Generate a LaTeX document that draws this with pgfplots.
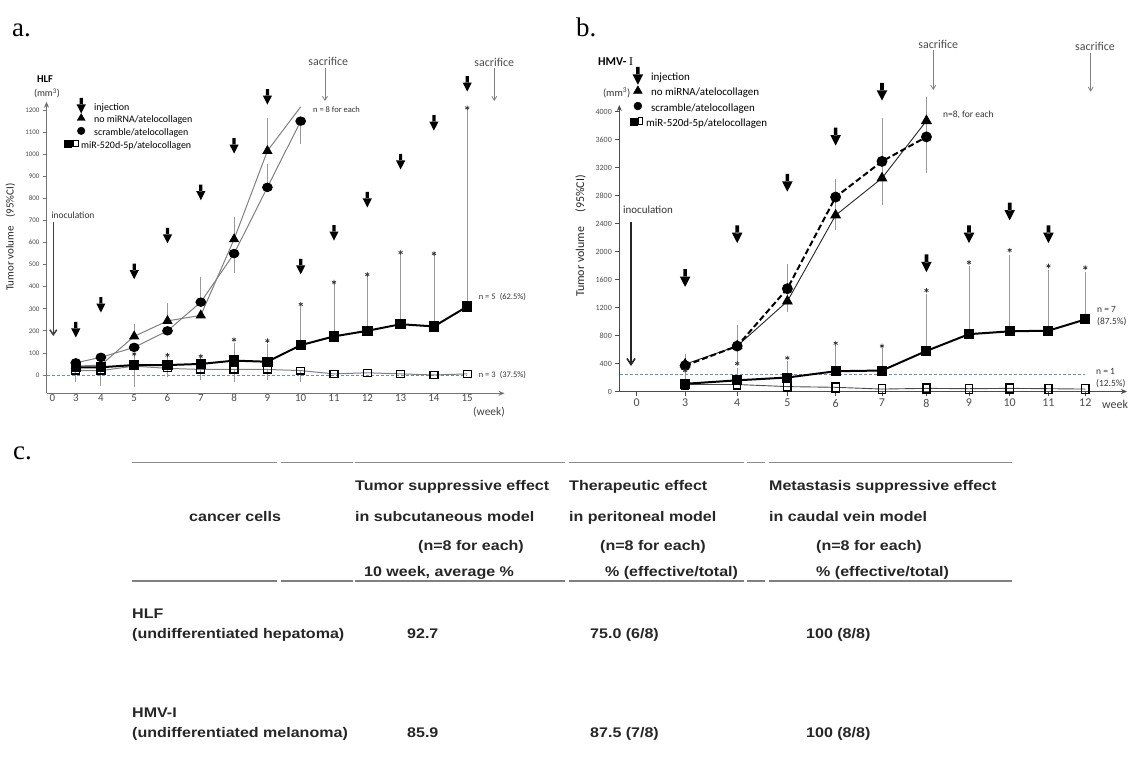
\documentclass[border=0pt]{standalone}
\usepackage{fontspec}
\setmainfont{Carlito}
\newfontfamily\tabfont{Liberation Sans}[FakeStretch=1.15]
\newfontfamily\serf{Liberation Serif}
\usepackage{pgfplots}
\pgfplotsset{compat=1.18}
\usetikzlibrary{arrows.meta}
\newcommand\fs[1]{\fontsize{#1}{#1}\selectfont}
% thick black injection arrow
\pgfdeclareplotmark{inj}{%
  \pgfpathrectanglecorners{\pgfpoint{-1.6bp}{1bp}}{\pgfpoint{1.6bp}{8bp}}%
  \pgfpathmoveto{\pgfpoint{-4.6bp}{1.5bp}}%
  \pgfpathlineto{\pgfpoint{4.6bp}{1.5bp}}%
  \pgfpathlineto{\pgfpoint{0bp}{-7.5bp}}%
  \pgfpathclose
  \pgfusepathqfill}
\pgfplotsset{
  ebar/.style={forget plot, draw=none, mark=none,
    error bars/.cd, y explicit, y dir=#1,
    error bar style={draw=black!40, line width=0.8bp},
    error mark options={draw=black!40, line width=0.8bp, mark size=3.5bp}},
  stars/.style={forget plot, only marks, mark=asterisk, mark size=2.3bp, black!80, line width=0.7bp},
  injs/.style={forget plot, only marks, mark=inj, black},
}
\newcommand\tb[3]{\node[anchor=base west, font=\tabfont\bfseries\fs{14}, text=black!85, inner sep=0pt] at (#1,#2) {#3};}
\begin{document}
\begin{tikzpicture}[x=1bp,y=-1bp]
\useasboundingbox (0,0) rectangle (1129,769);

% ---------------- panel a ----------------
\begin{axis}[
  at={(46.5bp,-393.3bp)}, anchor=south west,
  scale only axis, width=458bp, height=291.6bp,
  xmin=1.833, xmax=16.12, ymin=-83, ymax=1238,
  x coord trafo/.code={\pgfmathparse{#1>=4 ? 33.3*(#1-4) : 25.1*(#1-4)}},
  axis x line=bottom, axis y line=left,
  axis line style={black!55, line width=1.3bp},
  x axis line style={-{Stealth[length=6bp,width=5bp]}},
  y axis line style={-{Stealth[length=6bp,width=5bp]}},
  xtick={2.064,3,4,5,6,7,8,9,10,11,12,13,14,15},
  xticklabels={0,3,4,5,6,7,8,9,10,11,12,13,14,15},
  ytick={0,100,...,1200},
  tick align=outside, major tick length=3.5bp,
  xtick style={draw=none},
  ytick style={black!55, line width=0.8bp},
  xticklabel style={font=\fs{11}, text=black!70, yshift=6bp},
  yticklabel style={font=\fs{7}, text=black!70},
  /pgf/number format/assume math mode=true,
  /pgf/number format/set thousands separator={},
  clip=false,
  legend cell align=left,
  legend style={at={(0.0753,0.9955)}, anchor=north west, draw=none, fill=none,
    inner sep=0pt, font=\fs{10}, column sep=13bp, row sep=3.2bp,
    nodes={inner sep=0pt, text height=7bp, text depth=2.5bp}},
]
\addlegendimage{legend image code/.code={\path[overlay,fill=black] plot[only marks, mark=inj] coordinates {(0bp,2bp)};}}
\addlegendentry{injection}
\addlegendimage{legend image code/.code={\path[overlay,fill=black,draw=black] plot[only marks, mark=triangle*, mark size=4.6bp] coordinates {(0bp,2.5bp)};}}
\addlegendentry{no miRNA/atelocollagen}
\addlegendimage{legend image code/.code={\path[overlay,fill=black,draw=black] plot[only marks, mark=*, mark size=3.8bp] coordinates {(0bp,2.5bp)};}}
\addlegendentry{scramble/atelocollagen}
\addlegendimage{legend image code/.code={\fill[overlay,black] (-17bp,-1.3bp) rectangle (-9.6bp,6.1bp); \draw[overlay,black,line width=1.2bp,fill=white] (-8.2bp,-0.7bp) rectangle (-2.6bp,5.5bp);}}
\addlegendentry{\hspace*{-13bp}miR-520d-5p/atelocollagen}

\addplot[forget plot, densely dashed, color={rgb,255:red,110;green,140;blue,185}, line width=0.6bp] coordinates {(1.87,0)(15,0)};

% error bars
\addplot[ebar=plus] coordinates {(5,175)+-(0,40) (6,245)+-(0,65) (8,615)+-(0,85) (9,1015)+-(0,135)};
\addplot[ebar=plus] coordinates {(7,330)+-(0,100) (9,850)+-(0,90)};
\addplot[ebar=minus] coordinates {(8,550)+-(0,70) (10,1150)+-(0,90)};
\addplot[ebar=plus] coordinates {(5,45)+-(0,35) (6,45)+-(0,30) (7,50)+-(0,20) (8,65)+-(0,65) (9,60)+-(0,65) (10,135)+-(0,155) (11,175)+-(0,235) (12,200)+-(0,245) (13,230)+-(0,310) (14,220)+-(0,320) (15,310)+-(0,880)};
\addplot[ebar=minus] coordinates {(5,45)+-(0,85)};
\addplot[ebar=minus] coordinates {(3,20)+-(0,35) (4,20)+-(0,55) (6,30)+-(0,25) (7,25)+-(0,30) (8,25)+-(0,40) (9,25)+-(0,30) (10,20)+-(0,35)};

% no miRNA
\addplot[forget plot, black!50, line width=1bp, mark=triangle*, mark size=5bp,
  mark indices={1,2,3,4,5,6,7}, mark options={black, fill=black}]
  coordinates {(3,40)(4,45)(5,175)(6,245)(7,270)(8,615)(9,1015)(10,1215)};
% scramble
\addplot[forget plot, black!50, line width=1bp, mark=*, mark size=4.2bp, mark options={black, fill=black, xscale=1.15}]
  coordinates {(3,55)(4,80)(5,125)(6,200)(7,330)(8,550)(9,850)(10,1150)};
% miR-520d non-responders
\addplot[forget plot, black!50, line width=1bp, mark=square, mark size=4bp, mark options={black, fill=white, line width=1.3bp, yscale=0.85}]
  coordinates {(3,20)(4,20)(5,40)(6,30)(7,25)(8,25)(9,25)(10,20)(11,5)(12,10)(13,5)(14,0)(15,5)};
% miR-520d responders
\addplot[forget plot, black, line width=2bp, mark=square*, mark size=4.2bp]
  coordinates {(3,35)(4,35)(5,45)(6,45)(7,50)(8,65)(9,60)(10,135)(11,175)(12,200)(13,230)(14,220)(15,310)};
\addplot[stars] coordinates {(5,95)(6,90)(7,85)(8,160)(9,155)(10,320)(11,420)(12,455)(13,555)(14,550)(15,1210)};
\addplot[injs] coordinates {(3,204)(4,317)(5,468)(6,630)(7,826)(8,1037)(9,1259)(10,490)(11,643)(12,793)(13,965)(14,1141)(15,1318)};
\end{axis}

% ---------------- panel b ----------------
\begin{axis}[
  at={(619.3bp,-391.5bp)}, anchor=south west,
  scale only axis, width=507.7bp, height=286.5bp,
  xmin=1.785, xmax=13.2, ymin=0, ymax=4096,
  x coord trafo/.code={\pgfmathparse{53*(#1-3)-0.95*(#1-3)*(#1-3)}},
  axis x line=bottom, axis y line=left,
  axis line style={black!70, line width=1.6bp},
  x axis line style={-{Stealth[length=6bp,width=5bp]}},
  y axis line style={-{Stealth[length=6bp,width=5bp]}},
  xtick={2.1,3,4,5,6,7,8,9,10,11,12},
  xticklabels={0,3,4,5,6,7,8,9,10,11,12},
  ytick={0,400,...,4000},
  tick align=outside, major tick length=4bp,
  tick style={black!70, line width=0.9bp},
  xticklabel style={font=\fs{12}, text=black!70},
  yticklabel style={font=\fs{8}, text=black!70},
  /pgf/number format/assume math mode=true,
  /pgf/number format/set thousands separator={},
  clip=false,
  legend cell align=left,
  legend style={at={(0.0362,1.1127)}, anchor=north west, draw=none, fill=none,
    inner sep=0pt, font=\fs{11}, column sep=13.3bp, row sep=4.8bp,
    nodes={inner sep=0pt, text height=7.8bp, text depth=2.6bp}},
]
\addlegendimage{legend image code/.code={\path[overlay,fill=black] plot[only marks, mark=inj, mark options={scale=1.15}] coordinates {(0bp,2bp)};}}
\addlegendentry{injection}
\addlegendimage{legend image code/.code={\path[overlay,fill=black,draw=black] plot[only marks, mark=triangle*, mark size=5bp] coordinates {(0bp,2.5bp)};}}
\addlegendentry{no miRNA/atelocollagen}
\addlegendimage{legend image code/.code={\path[overlay,fill=black,draw=black] plot[only marks, mark=*, mark size=4bp] coordinates {(0bp,2.5bp)};}}
\addlegendentry{scramble/atelocollagen}
\addlegendimage{legend image code/.code={\fill[overlay,black] (-7.5bp,-1bp) rectangle (-1bp,5.5bp); \draw[overlay,black,line width=1.2bp,fill=white] (0.6bp,-1bp) rectangle (4.6bp,6bp);}}
\addlegendentry{\hspace*{-5bp}miR-520d-5p/atelocollagen}

\addplot[forget plot, densely dashed, color={rgb,255:red,110;green,140;blue,185}, line width=0.7bp] coordinates {(1.8,250)(12,250)};

% error bars
\addplot[ebar=both] coordinates {(3,370)+=(0,110)-=(0,70) (4,650)+=(0,165)-=(0,105) (5,1470)+=(0,310)-=(0,290) (6,2780)+=(0,210)-=(0,220) (7,3290)+=(0,565)-=(0,570) (8,3640)+=(0,370)-=(0,470)};
\addplot[ebar=both] coordinates {(3,390)+=(0,80)-=(0,60) (4,650)+=(0,245)-=(0,190) (5,1290)+=(0,90)-=(0,110) (6,2520)+=(0,160)-=(0,160) (7,3050)+=(0,240)-=(0,200) (8,3870)+=(0,290)-=(0,350)};
\addplot[ebar=plus] coordinates {(3,110)+-(0,140) (4,160)+-(0,130) (5,200)+-(0,180) (6,290)+-(0,330) (7,300)+-(0,270) (8,580)+-(0,760) (9,820)+-(0,930) (10,860)+-(0,1040) (11,870)+-(0,810) (12,1030)+-(0,630)};

% no miRNA
\addplot[forget plot, black!85, line width=0.9bp, mark=triangle*, mark size=5.5bp, mark options={black, fill=black}]
  coordinates {(3,390)(4,650)(5,1290)(6,2520)(7,3050)(8,3870)};
% scramble
\addplot[forget plot, black, line width=2bp, dash pattern=on 6bp off 3bp, mark=*, mark size=4.4bp, mark options={solid, black, fill=black}]
  coordinates {(3,370)(4,650)(5,1470)(6,2780)(7,3290)(8,3640)};
% miR-520d non-responder
\addplot[forget plot, black!70, line width=0.9bp, mark=square, mark size=3.6bp, mark options={black, fill=white, line width=1.4bp, yscale=1.25}]
  coordinates {(3,100)(4,100)(5,70)(6,60)(7,35)(8,45)(9,40)(10,45)(11,40)(12,35)};
% miR-520d responders
\addplot[forget plot, black, line width=2bp, mark=square*, mark size=4bp]
  coordinates {(3,110)(4,160)(5,200)(6,290)(7,300)(8,580)(9,820)(10,860)(11,870)(12,1030)};
\addplot[stars] coordinates {(3,300)(4,400)(5,480)(6,690)(7,650)(8,1445)(9,1845)(10,2020)(11,1795)(12,1770)};
\addplot[injs, mark options={scale=1.15}] coordinates {(3,1618)(4,2245)(5,2980)(6,3640)(7,4282)(8,1830)(9,2245)(10,2570)(11,2245)};
\end{axis}

% ---------------- annotations a ----------------
\node[font=\serf\fs{27}, anchor=base west, inner sep=0pt] at (12,37) {a.};
\node[font=\bfseries\fs{10.5}] at (45,79.3) {HLF};
\node[font=\fs{10}, text=black!80] at (47,93.3) {(mm\textsuperscript{3})};
\node[font=\fs{9.5}, text=black!80] at (73,215.7) {inoculation};
\draw[black!75, line width=1.5bp, -{Straight Barb[length=5bp,width=7bp]}] (53.3,222) -- (53.3,336);
\node[font=\fs{12}, text=black!70] at (328.3,61.7) {sacrifice};
\draw[black!50, line width=0.8bp, -{Straight Barb[length=4bp,width=5bp]}] (325,68) -- (325,101);
\node[font=\fs{12}, text=black!70] at (494.3,62.3) {sacrifice};
\draw[black!50, line width=0.8bp, -{Straight Barb[length=4bp,width=5bp]}] (494.3,68) -- (494.3,101);
\node[font=\fs{8.5}, text=black!80, anchor=west, inner sep=0pt] at (313,109.3) {n = 8 for each};
\node[font=\fs{8.5}, text=black!80, anchor=west, inner sep=0pt] at (478.6,297.3) {n = 5\enspace(62.5\%)};
\node[font=\fs{8.5}, text=black!80, anchor=west, inner sep=0pt] at (478.6,375) {n = 3\enspace(37.5\%)};
\node[font=\fs{11.5}, text=black!75] at (489,412) {(week)};
\node[rotate=90, font=\fs{11}, text=black!85] at (10.3,237) {Tumor volume\hspace{0.8em}(95\%CI)};

% ---------------- annotations b ----------------
\node[font=\serf\fs{27}, anchor=base west, inner sep=0pt] at (576,37) {b.};
\node[font=\bfseries\fs{12}, anchor=west, inner sep=0pt] at (598,61.7) {HMV-~{\serf\mdseries I}};
\node[font=\fs{10.5}, text=black!80] at (616.7,93.3) {(mm\textsuperscript{3})};
\node[font=\fs{11}, text=black!80] at (648,210) {inoculation};
\draw[black!85, line width=1.6bp, -{Straight Barb[length=6bp,width=8bp]}] (631,222) -- (631,366);
\node[font=\fs{12}, text=black!70] at (938.3,44) {sacrifice};
\draw[black!50, line width=0.8bp, -{Straight Barb[length=4bp,width=5bp]}] (933.3,50) -- (933.3,90);
\node[font=\fs{12}, text=black!70] at (1095,46) {sacrifice};
\draw[black!50, line width=0.8bp, -{Straight Barb[length=4bp,width=5bp]}] (1090.7,53) -- (1090.7,91.7);
\node[font=\fs{9.5}, text=black!80, anchor=west, inner sep=0pt] at (943,115) {n=8, for each};
\node[font=\fs{9.5}, text=black!80, anchor=west, inner sep=0pt] at (1097,309.3) {n = 7};
\node[font=\fs{9.5}, text=black!80, anchor=west, inner sep=0pt] at (1097,322) {(87.5\%)};
\node[font=\fs{9.5}, text=black!80, anchor=west, inner sep=0pt] at (1096,371) {n = 1};
\node[font=\fs{9.5}, text=black!80, anchor=west, inner sep=0pt] at (1096,384) {(12.5\%)};
\node[font=\fs{12}, text=black!75, anchor=west, inner sep=0pt] at (1102,404) {week};
\node[rotate=90, font=\fs{12}, text=black!85] at (580.7,236) {Tumor volume\hspace{1.2em}(95\%CI)};

% ---------------- table c ----------------
\node[font=\serf\fs{27}, anchor=base west, inner sep=0pt] at (13,459.5) {c.};
\foreach \a/\b in {131.8/277.2, 280.8/352.8, 355/565, 568.8/743.7, 746.6/764.6, 768.9/1011.5} {
  \draw[black!45, line width=1.2bp] (\a,462.7) -- (\b,462.7);
  \draw[black!50, line width=2.4bp] (\a,580.7) -- (\b,580.7);
}
\tb{355}{490}{Tumor suppressive effect}
\tb{569}{490}{Therapeutic effect}
\tb{769}{490}{Metastasis suppressive effect}
\tb{189}{521}{cancer cells}
\tb{355}{521}{in subcutaneous model}
\tb{569}{521}{in peritoneal model}
\tb{769}{521}{in caudal vein model}
\tb{418}{550}{(n=8 for each)}
\tb{600}{550}{(n=8 for each)}
\tb{816}{550}{(n=8 for each)}
\tb{364}{576}{10 week, average \%}
\tb{605}{576}{\% (effective/total)}
\tb{816}{576}{\% (effective/total)}
\tb{132}{618.5}{HLF}
\tb{132}{638}{(undifferentiated hepatoma)}
\tb{407}{638}{92.7}
\tb{590}{638}{75.0 (6/8)}
\tb{806}{638}{100 (8/8)}
\tb{132}{717}{HMV-I}
\tb{132}{737}{(undifferentiated melanoma)}
\tb{407}{737}{85.9}
\tb{590}{737}{87.5 (7/8)}
\tb{806}{737}{100 (8/8)}
\end{tikzpicture}
\end{document}
